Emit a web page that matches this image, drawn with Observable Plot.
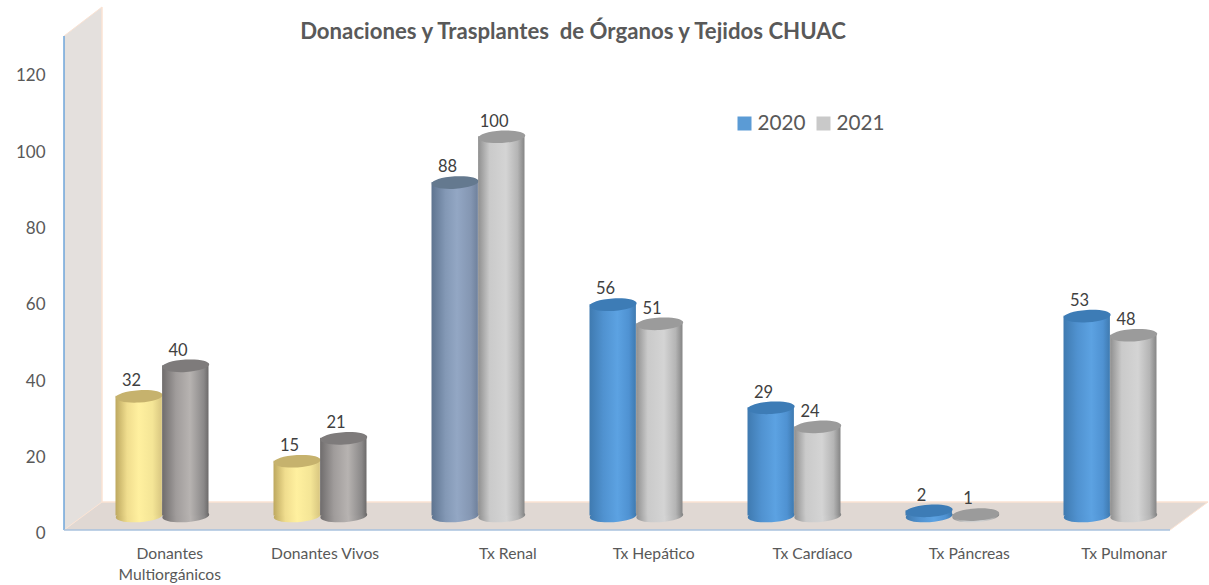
<!DOCTYPE html>
<html>
<head>
<meta charset="utf-8">
<style>html,body{margin:0;padding:0;background:#fff}svg{display:block}</style>
<script src="https://cdn.jsdelivr.net/npm/d3@7"></script>
<script src="https://cdn.jsdelivr.net/npm/@observablehq/plot@0.6"></script>
</head>
<body>
<script>
const titleText = "Donaciones y Trasplantes  de Órganos y Tejidos CHUAC";
const categories = ["Donantes\nMultiorgánicos","Donantes Vivos","Tx Renal","Tx Hepático","Tx Cardíaco","Tx Páncreas","Tx Pulmonar"];
const years = ["2020","2021"];
const values2020 = [32,15,88,56,29,2,53];
const values2021 = [40,21,100,51,24,1,48];
const yTicks = [0,20,40,60,80,100,120];
const looks2020 = ["gold","gold","slate","blue","blue","blue","blue"];
const looks2021 = ["dark","dark","light","light","light","light","light"];
const legendColors = ["#5b9bd5","#c9c9c9"];

const gradients = {
  gold:  [["0%","#bda85f"],["25%","#f0dd8e"],["50%","#fff09f"],["80%","#f4e596"],["100%","#d8c680"]],
  dark:  [["0%","#6f6c6c"],["30%","#a09c9b"],["60%","#b7b3b1"],["90%","#8a8888"],["100%","#6c6a6a"]],
  slate: [["0%","#5e7490"],["30%","#8398b5"],["55%","#93a7c4"],["85%","#8496b2"],["100%","#6f819c"]],
  blue:  [["0%","#3f7ab0"],["30%","#5092d0"],["60%","#5ca2e2"],["85%","#4f92d2"],["100%","#3f7ab0"]],
  light: [["0%","#8f8f8f"],["25%","#cacaca"],["60%","#d4d4d4"],["85%","#b5b5b5"],["100%","#858585"]]
};
const caps = {gold:"#c6b26d",dark:"#7e7b7b",slate:"#64798f",blue:"#3d7cb6",light:"#9b9b9b"};

const rows = [
  ...categories.map((c,i)=>({cat:c,year:"2020",value:values2020[i],look:looks2020[i]})),
  ...categories.map((c,i)=>({cat:c,year:"2021",value:values2021[i],look:looks2021[i]}))
];

const ellipse = {
  draw(ctx){
    const rx=23.5, ry=6.2, a=-3.5*Math.PI/180, k=0.5523;
    const P=(x,y)=>[x*Math.cos(a)-y*Math.sin(a), x*Math.sin(a)+y*Math.cos(a)];
    const seg=[[[rx,-ry*k],[rx*k,-ry],[0,-ry]],[[-rx*k,-ry],[-rx,-ry*k],[-rx,0]],[[-rx,ry*k],[-rx*k,ry],[0,ry]],[[rx*k,ry],[rx,ry*k],[rx,0]]];
    ctx.moveTo(...P(rx,0));
    for(const s of seg) ctx.bezierCurveTo(...P(...s[0]),...P(...s[1]),...P(...s[2]));
    ctx.closePath();
  }
};

function defsMark(){
  const d=d3.create("svg:defs");
  for(const [k,st] of Object.entries(gradients)){
    const g=d.append("linearGradient").attr("id","g-"+k).attr("x1",0).attr("x2",1).attr("y1",0).attr("y2",0);
    for(const [o,c] of st) g.append("stop").attr("offset",o).attr("stop-color",c);
  }
  return d.node();
}

function roomMark(index,{y},values,dims){
  const left=dims.marginLeft, base=y(0), top=y(129.4), back=38, rise=28, right=1170;
  const g=d3.create("svg:g");
  const poly=(pts,fill)=>g.append("polygon").attr("points",pts.join(" ")).attr("fill",fill);
  poly([[left,top],[left+back,top-29],[left+back,base-rise],[left,base]],"#e4e0dd");
  poly([[left,base],[left+back,base-rise],[right+back,base-rise],[right,base]],"#e0d8d3");
  const line=(x1,y1,x2,y2,c,w)=>g.append("line").attr("x1",x1).attr("y1",y1).attr("x2",x2).attr("y2",y2).attr("stroke",c).attr("stroke-width",w);
  line(left+back,top-29,left+back,base-rise,"#fbe3d3",1.5);
  line(left,top,left+back,top-29,"#fbe3d3",1);
  line(left+back,base-rise,right+back,base-rise,"#fbe3d3",1.5);
  line(left,base,left+back,base-rise,"#fbe3d3",1);
  line(right,base,right+back,base-rise,"#fbe3d3",1);
  line(left,top,left,base,"#6fa6da",1.5);
  line(left,base,right,base,"#a9c2de",1.5);
  return g.node();
}

const lift=-12, half=23.3, band=79.1;
const cylinders = yr => {
  const data=rows.filter(d=>d.year===yr), side=yr==="2020"?-1:1;
  return [
    Plot.dot(data,{x:"cat",y:()=>0,dx:side*half,dy:-2.5+lift,symbol:ellipse,r:1,fill:d=>`url(#g-${d.look})`}),
    Plot.barY(data,{x:"cat",y1:()=>0,y2:"value",dy:lift,insetBottom:2.5,
      insetLeft:yr==="2020"?band-2*half:band, insetRight:yr==="2020"?band:band-2*half,
      fill:d=>`url(#g-${d.look})`}),
    Plot.dot(data,{x:"cat",y:"value",dx:side*half,dy:lift,symbol:ellipse,r:1,fill:d=>caps[d.look]}),
    Plot.text(data,{x:"cat",y:"value",text:d=>String(d.value),dx:side*half-7.7,dy:lift-15.5,fontSize:16.5,fill:"#404040"})
  ];
};

const legend = years.flatMap((yr,i)=>[
  Plot.dot([yr],{frameAnchor:"top-left",dx:[680,759][i],dy:87,symbol:"square",r:7.9,fill:legendColors[i]}),
  Plot.text([yr],{frameAnchor:"top-left",dx:[693,772][i],dy:87,text:d=>d,textAnchor:"start",lineAnchor:"middle",fontSize:20.7,fill:"#595959"})
]);

const labelShift = [7.3,4.6,29.4,17.2,18,16.8,13.6];

const chart = Plot.plot({
  width:1209,height:585,
  marginLeft:64,marginTop:36,marginBottom:55,marginRight:20,
  style:{fontFamily:"Lato, 'Open Sans', sans-serif",color:"#595959",background:"#fff",fontSize:"14px"},
  x:{domain:categories,range:[161.2-band,161.2-band+7*158.2],padding:0},
  y:{domain:[0,129.4],range:[530,36]},
  color:{type:"identity"},
  marks:[
    defsMark,
    roomMark,
    Plot.axisY({ticks:yTicks,tickSize:0,tickPadding:19,fontSize:17,label:null,anchor:"left",dy:3.5,tickFormat:d=>String(d)}),
    ...categories.map((c,i)=>Plot.axisX([c],{tickSize:0,tickPadding:14,fontSize:15.7,label:null,dx:labelShift[i],lineHeight:1.33,lineAnchor:"top"})),
    ...cylinders("2020"),
    ...cylinders("2021"),
    ...legend,
    Plot.text([titleText],{frameAnchor:"top-left",dx:508.5,dy:-4.5,text:d=>d,textAnchor:"middle",lineAnchor:"middle",fontSize:22.2,fontWeight:700,fill:"#595959"})
  ]
});
document.body.appendChild(chart);
</script>
</body>
</html>
